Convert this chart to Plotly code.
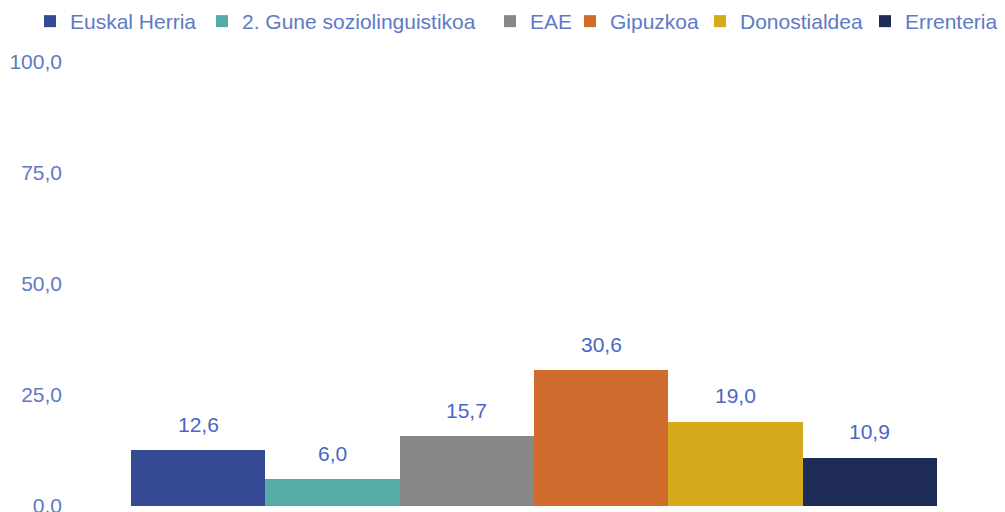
import plotly.graph_objects as go

categories = ["Euskal Herria", "2. Gune soziolinguistikoa", "EAE", "Gipuzkoa", "Donostialdea", "Errenteria"]
values = [12.6, 6.0, 15.7, 30.6, 19.0, 10.9]
colors = ["#344A94", "#55ABA8", "#878787", "#D06B2E", "#D4A91A", "#1F2B57"]
tick_vals = [0, 25, 50, 75, 100]
tick_text = ["0.0", "25,0", "50,0", "75,0", "100,0"]
# legend entry text start (px from left) for each series, as in the reference
legend_text_x = [70, 242, 530, 610, 740, 905]

TXT = "#6079C6"
LBL = "#4A66C6"
FONT = "Liberation Sans, Arial, sans-serif"
W, H = 1005, 512

fig = go.Figure()
layout_legends = {}
for i, (cat, val, col) in enumerate(zip(categories, values, colors)):
    lid = "legend" if i == 0 else f"legend{i+1}"
    fig.add_trace(go.Bar(x=[cat], y=[val], name=cat, marker=dict(color=col, line=dict(width=0)),
                         hoverinfo="name+y", legend=lid))
    fig.add_annotation(x=cat, y=val, text=f"{val:.1f}".replace(".", ","), showarrow=False,
                       yshift=26, yanchor="middle", font=dict(family=FONT, size=21, color=LBL))
    layout_legends[lid] = dict(orientation="h", xref="container", yref="container",
                               x=(legend_text_x[i] - 40) / W, y=1 - 1 / H,
                               xanchor="left", yanchor="top",
                               font=dict(family=FONT, size=21, color=TXT),
                               itemwidth=30, bgcolor="rgba(0,0,0,0)", borderwidth=0)

fig.update_layout(
    width=W, height=H,
    barmode="overlay", bargap=0,
    paper_bgcolor="white", plot_bgcolor="white",
    margin=dict(l=66, r=5, t=62, b=6, autoexpand=False),
    font=dict(family=FONT, size=21, color=TXT),
    showlegend=True,
    xaxis=dict(range=[-0.984, 5.969], showticklabels=False, showgrid=False, zeroline=False,
               showline=False, ticks=""),
    yaxis=dict(range=[0, 100], tickvals=tick_vals, ticktext=tick_text, showgrid=False,
               zeroline=False, showline=False, ticks="", ticklabeloverflow="allow",
               ticklabelstandoff=3, tickfont=dict(family=FONT, size=21, color=TXT)),
    **layout_legends,
)

fig.write_html("out.html", config={"displayModeBar": False},
               post_script="document.body.style.margin='0';document.body.style.overflow='hidden';")
